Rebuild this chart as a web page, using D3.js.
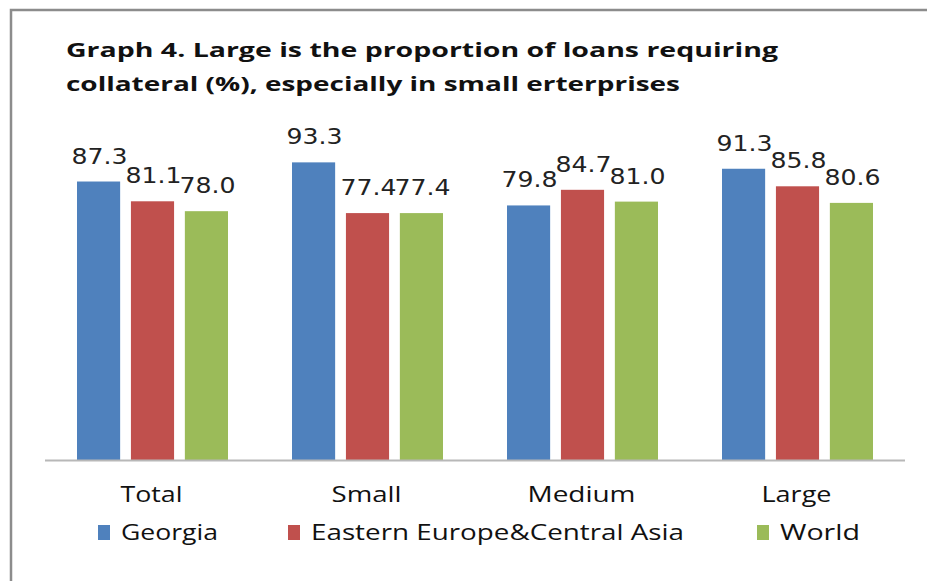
<!DOCTYPE html>
<html>
<head>
<meta charset="utf-8">
<script src="https://cdn.jsdelivr.net/npm/d3@7"></script>
<style>
  html, body { margin: 0; padding: 0; background: #fff; }
  svg { display: block; }
</style>
</head>
<body>
<svg width="927" height="581"></svg>
<script>
// chart data
var categories = ["Total", "Small", "Medium", "Large"];
var seriesNames = ["Georgia", "Eastern Europe&Central Asia", "World"];
var seriesColors = ["#4F81BD", "#C0504D", "#9BBB59"];
var georgia = [87.3, 93.3, 79.8, 91.3];
var eeca = [81.1, 77.4, 84.7, 85.8];
var world = [78.0, 77.4, 81.0, 80.6];
var titleLines = ["Graph 4. Large is the proportion of loans requiring",
                  "collateral (%), especially in small erterprises"];

// widths of texts as seen in the picture (the original font is wider)
var titleWidths = [712, 614];
var catWidths = [62, 70, 108, 70];
var legendWidths = [97, 373, 80];

var svg = d3.select("svg");
var allSeries = [georgia, eeca, world];

// frame
svg.append("path")
    .attr("d", "M11,600 L11,10 L940,10")
    .attr("fill", "none")
    .attr("stroke", "#8c8c8c")
    .attr("stroke-width", 2.5);

// title
svg.selectAll(".title")
    .data(titleLines)
    .enter()
    .append("text")
    .attr("class", "title")
    .attr("x", 66)
    .attr("y", function(d, i) { return 57 + i * 34; })
    .attr("textLength", function(d, i) { return titleWidths[i]; })
    .attr("lengthAdjust", "spacingAndGlyphs")
    .style("font-family", "'Open Sans', 'Noto Sans', sans-serif")
    .style("font-weight", "bold")
    .style("font-size", "20px")
    .style("fill", "#111")
    .text(function(d) { return d; });

// scales
var x0 = d3.scaleBand().domain(categories).range([45, 905]);
var x1 = d3.scaleBand().domain(d3.range(seriesNames.length)).range([32, 183]).paddingInner(0.2);
var y = d3.scaleLinear().domain([0, 100]).range([460, 141]);

var groups = svg.selectAll(".grp")
    .data(categories)
    .enter()
    .append("g")
    .attr("class", "grp")
    .attr("transform", function(d) { return "translate(" + x0(d) + ",0)"; });

groups.each(function(cat, ci) {
    var g = d3.select(this);
    var vals = allSeries.map(function(s, si) { return { si: si, v: s[ci] }; });

    g.selectAll("rect")
        .data(vals)
        .enter()
        .append("rect")
        .attr("x", function(d) { return x1(d.si); })
        .attr("width", x1.bandwidth())
        .attr("y", function(d) { return y(d.v); })
        .attr("height", function(d) { return y(0) - y(d.v); })
        .attr("fill", function(d) { return seriesColors[d.si]; });

    g.selectAll(".val")
        .data(vals)
        .enter()
        .append("text")
        .attr("class", "val")
        .attr("x", function(d) { return x1(d.si) + x1.bandwidth() / 2 + 1; })
        .attr("y", function(d) { return y(d.v) - 18; })
        .attr("text-anchor", "middle")
        .attr("textLength", 56)
        .attr("lengthAdjust", "spacingAndGlyphs")
        .style("font-family", "'DejaVu Sans', Verdana, sans-serif")
        .style("font-size", "20.5px")
        .style("fill", "#222")
        .text(function(d) { return d.v.toFixed(1); });
});

// x axis line
svg.append("line")
    .attr("x1", x0.range()[0])
    .attr("x2", x0.range()[1])
    .attr("y1", y(0) + 0.5)
    .attr("y2", y(0) + 0.5)
    .attr("stroke", "#b8b8b8")
    .attr("stroke-width", 2);

// category labels
svg.selectAll(".cat")
    .data(categories)
    .enter()
    .append("text")
    .attr("class", "cat")
    .attr("x", function(d) { return x0(d) + x0.bandwidth() / 2 - 1; })
    .attr("y", 502)
    .attr("text-anchor", "middle")
    .attr("textLength", function(d, i) { return catWidths[i]; })
    .attr("lengthAdjust", "spacingAndGlyphs")
    .style("font-family", "'Open Sans', 'Noto Sans', sans-serif")
    .style("font-size", "21px")
    .style("fill", "#111")
    .text(function(d) { return d; });

// legend
var legendX = [98, 288, 757];
var legend = svg.selectAll(".leg")
    .data(seriesNames)
    .enter()
    .append("g")
    .attr("class", "leg")
    .attr("transform", function(d, i) { return "translate(" + legendX[i] + ",0)"; });

legend.append("rect")
    .attr("x", 0)
    .attr("y", 525)
    .attr("width", 12)
    .attr("height", 15)
    .attr("fill", function(d, i) { return seriesColors[i]; });

legend.append("text")
    .attr("x", 23)
    .attr("y", 540)
    .attr("textLength", function(d, i) { return legendWidths[i]; })
    .attr("lengthAdjust", "spacingAndGlyphs")
    .style("font-family", "'Open Sans', 'Noto Sans', sans-serif")
    .style("font-size", "21px")
    .style("fill", "#111")
    .text(function(d) { return d; });
</script>
</body>
</html>
